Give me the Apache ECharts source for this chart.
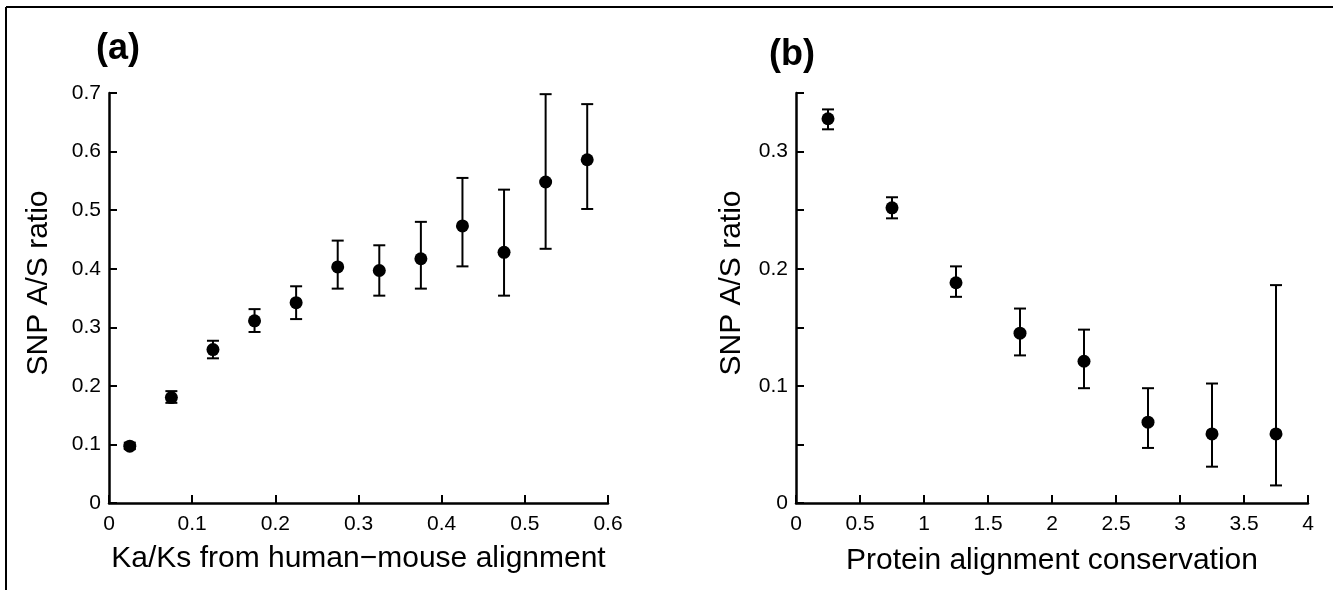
<!DOCTYPE html>
<html>
<head>
<meta charset="utf-8">
<script src="https://cdn.jsdelivr.net/npm/echarts@6/dist/echarts.min.js"></script>
<style>
  html, body { margin: 0; padding: 0; background: #fff; }
  #chart { width: 1333px; height: 590px; }
</style>
</head>
<body>
<div id="chart"></div>
<script>
// (a) Ka/Ks bins
var kaksX    = [0.025, 0.075, 0.125, 0.175, 0.225, 0.275, 0.325, 0.375, 0.425, 0.475, 0.525, 0.575];
var kaksMean = [0.097, 0.180, 0.262, 0.311, 0.342, 0.403, 0.397, 0.417, 0.473, 0.428, 0.548, 0.586];
var kaksLow  = [0.092, 0.171, 0.247, 0.292, 0.314, 0.366, 0.354, 0.366, 0.404, 0.354, 0.434, 0.502];
var kaksHigh = [0.103, 0.191, 0.277, 0.331, 0.370, 0.448, 0.440, 0.480, 0.555, 0.535, 0.698, 0.681];

// (b) protein alignment conservation bins
var consX    = [0.25, 0.75, 1.25, 1.75, 2.25, 2.75, 3.25, 3.75];
var consMean = [0.328, 0.252, 0.188, 0.145, 0.121, 0.069, 0.059, 0.059];
var consLow  = [0.319, 0.243, 0.176, 0.126, 0.098, 0.047, 0.031, 0.015];
var consHigh = [0.336, 0.261, 0.202, 0.166, 0.148, 0.098, 0.102, 0.186];

var FONT = 'Liberation Sans, Arial, Helvetica, sans-serif';

function zip2(a, b) { return a.map(function (v, i) { return [v, b[i]]; }); }
function zip3(a, b, c) { return a.map(function (v, i) { return [v, b[i], c[i]]; }); }

function errorBars(params, api) {
  var x = api.value(0);
  var lo = api.coord([x, api.value(1)]);
  var hi = api.coord([x, api.value(2)]);
  var w = 6;
  var st = { stroke: '#000', lineWidth: 2 };
  return {
    type: 'group',
    children: [
      { type: 'line', shape: { x1: hi[0], y1: hi[1], x2: lo[0], y2: lo[1] }, style: st },
      { type: 'line', shape: { x1: hi[0] - w, y1: hi[1], x2: hi[0] + w, y2: hi[1] }, style: st },
      { type: 'line', shape: { x1: lo[0] - w, y1: lo[1], x2: lo[0] + w, y2: lo[1] }, style: st }
    ]
  };
}

function axisBase() {
  return {
    type: 'value',
    axisLine: { lineStyle: { color: '#000', width: 2.5 } },
    axisTick: { inside: true, length: 8, lineStyle: { color: '#000', width: 2 } },
    splitLine: { show: false },
    axisLabel: { color: '#000', fontSize: 21, fontFamily: FONT }
  };
}

var chart = echarts.init(document.getElementById('chart'));

var xa = axisBase(), ya = axisBase(), xb = axisBase(), yb = axisBase();

Object.assign(xa, {
  gridIndex: 0, min: 0, max: 0.6, interval: 0.1,
  name: 'Ka/Ks from human\u2212mouse alignment', nameLocation: 'middle', nameGap: 41,
  nameTextStyle: { color: '#000', fontSize: 30, fontFamily: FONT }
});
xa.axisLabel.margin = 11;

Object.assign(ya, {
  gridIndex: 0, min: 0, max: 0.7, interval: 0.1,
  name: 'SNP A/S ratio', nameLocation: 'middle', nameGap: 55,
  nameTextStyle: { color: '#000', fontSize: 30, fontFamily: FONT, padding: [0, 0, 0, 30] }
});
ya.axisLabel.margin = 8;

Object.assign(xb, {
  gridIndex: 1, min: 0, max: 4, interval: 0.5,
  name: 'Protein alignment conservation', nameLocation: 'middle', nameGap: 43,
  nameTextStyle: { color: '#000', fontSize: 30, fontFamily: FONT }
});
xb.axisLabel.margin = 11;

Object.assign(yb, {
  gridIndex: 1, min: 0, max: 0.35, interval: 0.05,
  name: 'SNP A/S ratio', nameLocation: 'middle', nameGap: 49,
  nameTextStyle: { color: '#000', fontSize: 30, fontFamily: FONT, padding: [0, 0, 0, 30] }
});
yb.axisLabel.margin = 8;
yb.axisLabel.formatter = function (v) {
  return Math.round(v * 100) % 10 === 0 ? String(+v.toFixed(1)) : '';
};

var option = {
  backgroundColor: '#fff',
  animation: false,
  title: [
    { text: '(a)', left: 91, top: 26, textStyle: { fontSize: 36, fontWeight: 'bold', color: '#000', fontFamily: FONT } },
    { text: '(b)', left: 764, top: 32, textStyle: { fontSize: 36, fontWeight: 'bold', color: '#000', fontFamily: FONT } }
  ],
  graphic: [
    { type: 'line', shape: { x1: 6, y1: 7, x2: 1333, y2: 7 }, style: { stroke: '#000', lineWidth: 2 } },
    { type: 'line', shape: { x1: 6, y1: 7, x2: 6, y2: 590 }, style: { stroke: '#000', lineWidth: 2 } }
  ],
  grid: [
    { left: 109, top: 93, width: 499, height: 410 },
    { left: 796, top: 93, width: 512, height: 410 }
  ],
  xAxis: [xa, xb],
  yAxis: [ya, yb],
  series: [
    { type: 'custom', xAxisIndex: 0, yAxisIndex: 0, renderItem: errorBars,
      encode: { x: 0, y: [1, 2] }, data: zip3(kaksX, kaksLow, kaksHigh), z: 2 },
    { type: 'scatter', xAxisIndex: 0, yAxisIndex: 0, symbolSize: 13,
      itemStyle: { color: '#000', opacity: 1 }, data: zip2(kaksX, kaksMean), z: 3 },
    { type: 'custom', xAxisIndex: 1, yAxisIndex: 1, renderItem: errorBars,
      encode: { x: 0, y: [1, 2] }, data: zip3(consX, consLow, consHigh), z: 2 },
    { type: 'scatter', xAxisIndex: 1, yAxisIndex: 1, symbolSize: 13,
      itemStyle: { color: '#000', opacity: 1 }, data: zip2(consX, consMean), z: 3 }
  ]
};

chart.setOption(option);
window.onresize = function () { chart.resize(); };
</script>
</body>
</html>
